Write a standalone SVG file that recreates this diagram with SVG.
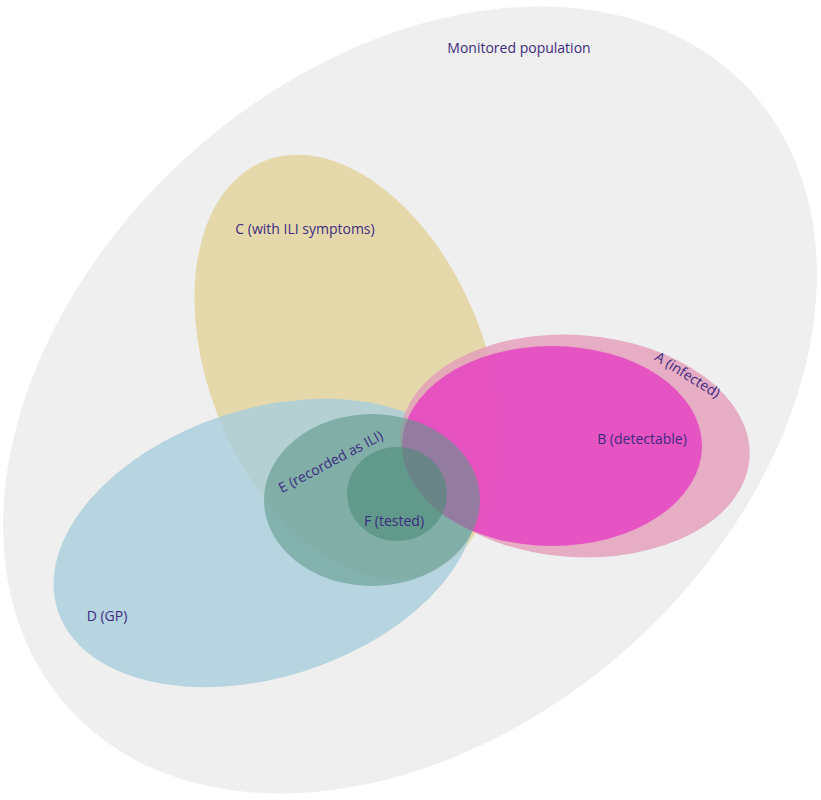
<svg xmlns="http://www.w3.org/2000/svg" width="821" height="800" viewBox="0 0 821 800">
<style>
text{font-family:"Open Sans","Liberation Sans",sans-serif;font-size:14px;fill:#3d2b80;text-anchor:middle}
</style>
<rect width="821" height="800" fill="#fff"/>
<g id="monitored"><ellipse cx="410" cy="400" rx="460" ry="330" transform="rotate(-42 410 400)" fill="#efefef"/><text x="519" y="53">Monitored population</text></g>
<g id="C"><ellipse cx="347" cy="367" rx="138" ry="222" transform="rotate(-22 347 367)" fill="#e3d5a0" fill-opacity="0.85"/></g>
<g id="D"><ellipse cx="265" cy="543" rx="218" ry="134" transform="rotate(-18 265 543)" fill="#a9cddd" fill-opacity="0.8"/></g>
<g id="A"><ellipse cx="575" cy="446" rx="175" ry="111" transform="rotate(4 575 446)" fill="#e39cba" fill-opacity="0.8"/></g>
<g id="B"><ellipse cx="552" cy="446" rx="150" ry="100" fill="#e63cc0" fill-opacity="0.8"/></g>
<g id="E"><ellipse cx="372" cy="500" rx="108" ry="86" fill="#5f9a8c" fill-opacity="0.6"/></g>
<g id="F"><ellipse cx="397" cy="494" rx="50" ry="47" fill="#4c8c78" fill-opacity="0.6"/></g>
<g id="labels">
<text x="305" y="234">C (with ILI symptoms)</text>
<text x="685" y="379" transform="rotate(32 685 379)">A (infected)</text>
<text x="642" y="444">B (detectable)</text>
<text x="333" y="466" transform="rotate(-28 333 466)">E (recorded as ILI)</text>
<text x="394" y="526">F (tested)</text>
<text x="107" y="621">D (GP)</text>
</g>
<g id="connectors"/>
</svg>
